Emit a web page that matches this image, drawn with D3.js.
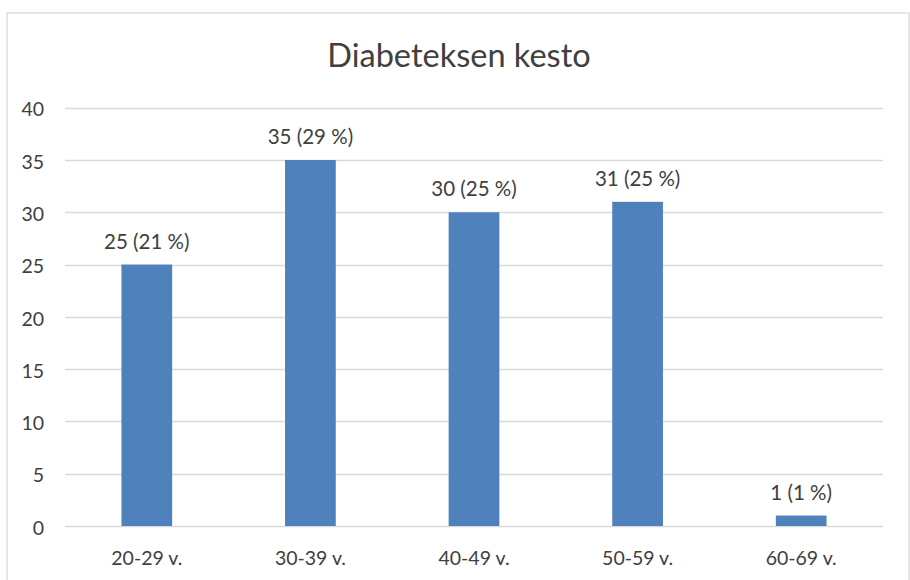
<!DOCTYPE html>
<html><head><meta charset="utf-8">
<script src="https://cdn.jsdelivr.net/npm/d3@7"></script>
<style>
html,body{margin:0;padding:0;background:#fff;}
svg{display:block;font-family:Lato,"Open Sans",sans-serif;}
</style></head>
<body>
<svg id="chart" width="910" height="580"></svg>
<script>
const categories = ["20-29 v.", "30-39 v.", "40-49 v.", "50-59 v.", "60-69 v."];
const counts = [25, 35, 30, 31, 1];
const percents = ["21 %", "29 %", "25 %", "25 %", "1 %"];
const yTicks = [0, 5, 10, 15, 20, 25, 30, 35, 40];
const title = "Diabeteksen kesto";

const svg = d3.select("#chart");
const W = 910, H = 580;
const m = {left: 65, right: 27, top: 107.7, bottom: 54};

svg.append("rect").attr("x", 7).attr("y", 13).attr("width", 902).attr("height", 580)
  .attr("fill", "#fff").attr("stroke", "#d9d9d9").attr("stroke-width", 1.3);

const x = d3.scaleBand().domain(categories).range([m.left, W - m.right]).paddingInner(0.69).paddingOuter(0.345);
const y = d3.scaleLinear().domain([0, 40]).range([526, 107.7]);

svg.append("text").attr("x", 459).attr("y", 67).attr("text-anchor", "middle")
  .attr("font-size", 32.5).attr("fill", "#404040").text(title);

const grid = svg.append("g").attr("class", "grid");
grid.selectAll("line").data(yTicks).join("line")
  .attr("x1", m.left).attr("x2", W - m.right)
  .attr("y1", d => Math.round(y(d)) + 0.5).attr("y2", d => Math.round(y(d)) + 0.5)
  .attr("stroke", "#d9d9d9").attr("stroke-width", 1.4);

const yAxis = d3.axisLeft(y).tickValues(yTicks).tickSize(0).tickPadding(0);
svg.append("g").attr("transform", "translate(44,2)").call(yAxis)
  .call(g => g.select(".domain").remove())
  .call(g => g.selectAll("text").attr("font-size", 19.5).attr("fill", "#404040").attr("font-family", "Lato"));

svg.append("g").selectAll("rect").data(counts).join("rect")
  .attr("x", (d, i) => x(categories[i]))
  .attr("width", x.bandwidth())
  .attr("y", d => y(d))
  .attr("height", d => y(0) - y(d))
  .attr("fill", "#4f81bd");

svg.append("g").selectAll("text").data(counts).join("text")
  .attr("x", (d, i) => x(categories[i]) + x.bandwidth() / 2)
  .attr("y", d => y(d) - 16)
  .attr("text-anchor", "middle").attr("font-size", 20.5).attr("fill", "#404040")
  .text((d, i) => `${d} (${percents[i]})`);

const xAxis = d3.axisBottom(x).tickSize(0).tickPadding(0);
svg.append("g").attr("transform", "translate(0,551)").call(xAxis)
  .call(g => g.select(".domain").remove())
  .call(g => g.selectAll("text").attr("font-size", 19.5).attr("fill", "#404040").attr("font-family", "Lato"));
</script>
</body></html>
